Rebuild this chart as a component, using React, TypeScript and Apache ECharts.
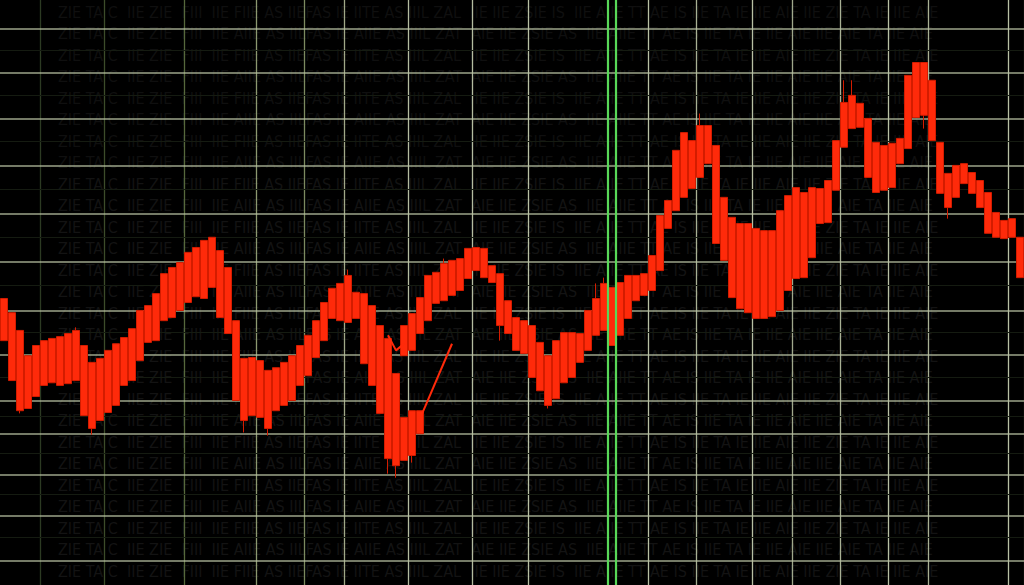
import React, { useEffect, useRef } from "react";
import * as echarts from "echarts";

// Body top (open) and body bottom (close) of each candle, in price units
const opens = [
  59.1, 55.9, 51.9, 46.2, 48.5, 49.6, 50.1, 50.5, 51.2, 51.9,
  48.5, 44.7, 45.6, 47.4, 48.9, 50.3, 52.3, 56.4, 57.5, 60.2,
  64.7, 66.1, 67.2, 69.5, 70.6, 72.2, 72.9, 69.9, 66.1, 54.1,
  45.6, 45.8, 45.1, 42.9, 43.5, 44.7, 46.2, 48.5, 50.8, 54.1,
  58.2, 61.4, 62.5, 64.3, 60.5, 60.2, 57.5, 53.0, 50.1, 42.2,
  32.3, 33.8, 33.8, 64.3, 65.0, 67.0, 67.7, 68.1, 70.4, 70.6,
  70.4, 66.5, 64.7, 58.6, 54.8, 54.1, 53.0, 49.2, 46.2, 49.6,
  51.4, 51.4, 51.2, 56.4, 59.1, 62.5, 61.6, 62.7, 64.3, 64.3,
  64.7, 68.8, 77.8, 81.2, 92.5, 96.5, 94.7, 98.1, 98.1, 93.6,
  81.9, 77.4, 76.0, 76.0, 74.9, 74.4, 74.4, 78.9, 82.3, 84.1,
  83.0, 84.1, 83.9, 85.7, 94.7, 103.3, 104.9, 103.1, 99.7, 94.3,
  93.6, 94.1, 95.2, 109.4, 112.3, 112.3, 108.3, 94.3, 87.3, 89.1,
  89.5, 87.5, 85.7, 83.0, 78.5, 76.7, 77.1, 72.9,
];
const closes = [
  49.6, 40.6, 33.8, 34.3, 37.0, 39.5, 40.1, 39.5, 39.9, 40.6,
  32.7, 29.8, 31.6, 33.4, 35.0, 39.5, 40.6, 45.1, 49.2, 49.6,
  54.1, 54.8, 56.4, 58.2, 59.5, 59.1, 61.6, 54.8, 51.2, 36.1,
  31.6, 32.7, 32.3, 29.8, 33.8, 35.0, 36.1, 39.5, 41.7, 45.8,
  49.6, 54.6, 54.1, 53.7, 54.6, 44.4, 39.5, 33.2, 23.0, 21.4,
  22.6, 23.7, 28.6, 54.1, 58.0, 58.6, 59.8, 60.9, 63.6, 65.4,
  63.8, 62.7, 53.0, 51.2, 47.4, 46.7, 41.3, 38.3, 35.0, 36.5,
  40.1, 41.3, 44.7, 47.4, 50.8, 51.9, 48.5, 50.8, 54.6, 58.6,
  59.8, 60.9, 65.4, 74.9, 78.9, 81.9, 83.9, 86.4, 89.5, 71.5,
  67.7, 59.3, 56.8, 55.9, 54.6, 54.6, 55.0, 56.4, 60.9, 63.6,
  63.8, 68.3, 76.0, 76.2, 83.5, 93.2, 97.4, 97.7, 86.4, 83.0,
  83.5, 84.1, 89.5, 92.9, 99.9, 100.4, 94.7, 82.8, 79.6, 81.9,
  85.0, 82.8, 79.6, 73.8, 72.9, 72.6, 72.9, 63.8,
];
// Wicks that reach beyond the body: [candle index, price]
const wickHighs = [
  [9, 52.6], [43, 65.6], [55, 68.1], [74, 62.5], [75, 63.8],
  [87, 100.8], [105, 108.3], [106, 108.3],
];
const wickLows = [
  [2, 33.2], [11, 28.4], [30, 28.9], [33, 28.2], [48, 19.6], [49, 18.7],
  [51, 22.1], [62, 49.6], [68, 34.3], [115, 97.4], [118, 77.1],
];
// Second layer of bodies above the trough: [index, open, close]
const upperLayer = [
  [50, 53.0, 46.2], [51, 55.7, 47.4], [52, 59.3, 51.2],
];
// Stray thin strokes
const strayV = [[48, 50.8], [49, 47.4], [50, 48.9]];
const strayDiagonal = [[52, 32.0], [56, 48.9]];

// Grid
const majorLevels = [120, 110.1, 99.7, 89.1, 78.3, 67.4, 56.4, 46.5, 36.1, 28.6, 19.4, 10.2, 0];
const minorLevels = [115.0, 104.9, 94.5, 83.7, 72.9, 62.0, 51.4, 41.3, 32.5, 24.1, 14.9, 5.2];
const verticalGridIndices = [5, 13, 23, 32, 38, 43, 51, 59, 66, 81, 87, 94, 99, 105, 111, 116, 126];
const verticalGridColors = [
  "#2c3a22", "#3c4c2a", "#56683c", "#8c9870", "#7c8a60", "#a0a888", "#b4bca0", "#b4bca0",
  "#b8c0a4", "#b8c0a4", "#a8b094", "#b8c0a4", "#a0a88c", "#a8b094", "#b8c0a4", "#a8b094", "#b8c0a4",
];
const markerPositions = [76, 77];

const backgroundRows = [
  "ZIE TA C  IIE ZIE  FIII  IIE FIIE AS IIEFAS IE IITE AS IIIL ZAL  IIE IIE ZSIE IS  IIE AIIE TT AE IS IIE TA IE IIE AIE IIE ZIE TA IE IIE AIE",
  "ZIE TA C  IIE ZIE  FIII  IIE AIIE AS IILFAS IE AIIE AS IIIL ZAT  AIE IIE ZSIE AS  IIE AIIE TT AE IS IIE TA IE IIE AIE IIE AIE TA IIE AIE",
];

const categories = opens.map((_, i) => `T${i + 1}`);

const RED = "#ff2a0a";
const RED_EDGE = "#d41c00";

// chart canvas extends beyond the visible 1024x585 frame so that price 130..-10 maps to y -16..605
const CANVAS_TOP = -16;
const CANVAS_HEIGHT = 621;

export default function App() {
  const ref = useRef<HTMLDivElement>(null);

  useEffect(() => {
    document.body.style.margin = "0";
    document.body.style.background = "#000";
    if (!ref.current) return;
    const chart = echarts.init(ref.current, null, { renderer: "svg" });

    const highMap = new Map(wickHighs.map(([i, v]) => [i, v]));
    const lowMap = new Map(wickLows.map(([i, v]) => [i, v]));
    const mainData = opens.map((o, i) => [
      o,
      closes[i],
      lowMap.has(i) ? lowMap.get(i) : closes[i],
      highMap.has(i) ? highMap.get(i) : o,
    ]);
    const upperData: any[] = opens.map(() => "-");
    upperLayer.forEach(([i, o, c]) => {
      upperData[i] = [o, c, c, o];
    });

    const candleStyle = {
      color: RED,
      color0: RED,
      borderColor: RED_EDGE,
      borderColor0: RED_EDGE,
      borderWidth: 1,
    };

    const rowGraphics = [];
    for (let r = 0; r < 27; r++) {
      rowGraphics.push({
        type: "text",
        x: 58,
        y: 20 + r * 21.5,
        silent: true,
        z: -10,
        style: {
          text: backgroundRows[r % 2],
          fill: r < 8 ? "#0f0f0f" : "#131313",
          font: "16px 'DejaVu Sans Condensed'",
        },
      });
    }

    chart.setOption({
      animation: false,
      backgroundColor: "#000",
      graphic: rowGraphics,
      grid: { left: 0, right: 0, top: 0, bottom: 0, containLabel: false },
      xAxis: [
        {
          type: "category",
          data: categories,
          boundaryGap: true,
          axisLine: { show: false },
          axisTick: { show: false },
          axisLabel: { show: false },
          splitLine: {
            show: true,
            interval: (index: number) => verticalGridIndices.includes(index),
            lineStyle: { color: verticalGridColors, width: 1.3 },
          },
        },
        {
          type: "value",
          min: 0,
          max: categories.length,
          show: false,
          splitLine: { show: false },
        },
      ],
      yAxis: {
        type: "value",
        min: -10,
        max: 130,
        interval: 10,
        axisLine: { show: false },
        axisTick: { show: false },
        axisLabel: { show: false },
        splitLine: { show: false },
      },
      series: [
        {
          name: "minorGrid",
          type: "line",
          data: [],
          z: 1,
          silent: true,
          markLine: {
            silent: true,
            symbol: "none",
            z: 1,
            label: { show: false },
            lineStyle: { color: "#151b11", width: 1, type: "solid" },
            emphasis: { disabled: true },
            data: minorLevels.map((v) => ({ yAxis: v })),
          },
        },
        {
          name: "majorGrid",
          type: "line",
          data: [],
          z: 1,
          silent: true,
          markLine: {
            silent: true,
            symbol: "none",
            z: 1,
            label: { show: false },
            lineStyle: { color: "#b9c2a2", width: 1.5, type: "solid", opacity: 0.85 },
            emphasis: { disabled: true },
            data: majorLevels.map((v) => ({ yAxis: v })),
          },
        },
        {
          name: "price",
          type: "candlestick",
          data: mainData,
          barWidth: "82%",
          z: 3,
          itemStyle: candleStyle,
        },
        {
          name: "upper",
          type: "candlestick",
          data: upperData,
          barWidth: "82%",
          z: 3,
          itemStyle: candleStyle,
        },
        {
          name: "strayV",
          type: "line",
          data: strayV,
          symbol: "none",
          z: 4,
          lineStyle: { color: RED, width: 2 },
        },
        {
          name: "strayDiagonal",
          type: "line",
          data: strayDiagonal,
          symbol: "none",
          z: 4,
          lineStyle: { color: RED, width: 2 },
        },
        {
          name: "marker",
          type: "line",
          xAxisIndex: 1,
          data: [],
          z: 5,
          silent: true,
          markLine: {
            silent: true,
            symbol: "none",
            z: 5,
            label: { show: false },
            lineStyle: { color: "#58d858", width: 2.2, type: "solid" },
            data: markerPositions.map((v) => ({ xAxis: v })),
          },
        },
      ],
    });

    return () => chart.dispose();
  }, []);

  return (
    <div
      style={{
        position: "fixed",
        left: 0,
        top: 0,
        width: 1024,
        height: 585,
        overflow: "hidden",
        background: "#000",
      }}
    >
      <div
        ref={ref}
        style={{ position: "absolute", left: 0, top: CANVAS_TOP, width: 1024, height: CANVAS_HEIGHT }}
      />
    </div>
  );
}
